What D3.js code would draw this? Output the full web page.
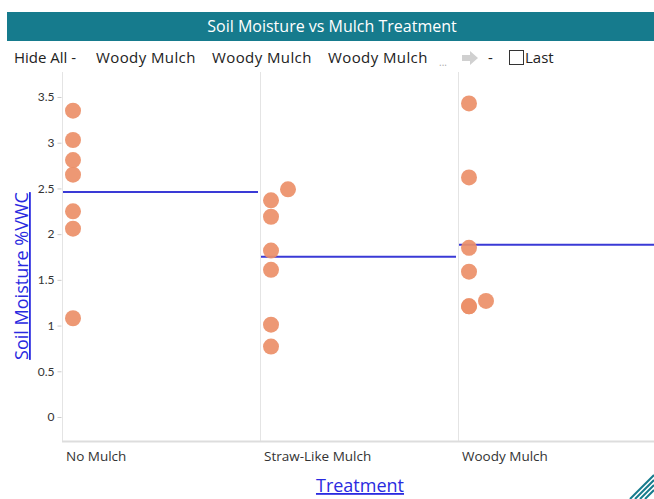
<!DOCTYPE html>
<html>
<head>
<title>Soil Moisture vs Mulch Treatment</title>
<script src="https://d3js.org/d3.v7.min.js" charset="utf-8"></script>
<style>
body { margin: 0; background: white; font-family: "Open Sans", Lato, sans-serif; }
</style>
</head>
<body>
<script>
var width = 654;
var height = 499;

// data
var categories = ["No Mulch", "Straw-Like Mulch", "Woody Mulch"];
var noMulch = [3.35, 3.03, 2.81, 2.65, 2.25, 2.06, 1.08];
var strawMulch = [2.37, 2.49, 2.19, 1.82, 1.61, 1.01, 0.77];
var woodyMulch = [3.43, 2.62, 1.85, 1.59, 1.21, 1.27, 1.21];
var yTicks = [0, 0.5, 1, 1.5, 2, 2.5, 3, 3.5];
var toolbarItems = ["Hide All -", "Woody Mulch", "Woody Mulch", "Woody Mulch"];

var series = [noMulch, strawMulch, woodyMulch];

var dotColor = "#ec8f68";
var meanColor = "#3a3ad6";
var teal = "#167b8d";

var svg = d3.select("body").append("svg")
  .attr("width", width)
  .attr("height", height);

// title bar
svg.append("rect")
  .attr("x", 7).attr("y", 12)
  .attr("width", width - 7).attr("height", 29)
  .attr("fill", teal);
svg.append("text")
  .attr("x", 332).attr("y", 32)
  .attr("text-anchor", "middle")
  .attr("fill", "white")
  .attr("font-size", 16)
  .text("Soil Moisture vs Mulch Treatment");

// toolbar
var tb = svg.append("g").attr("font-size", 15).attr("fill", "#222");
tb.append("text").attr("x", 14).attr("y", 63).text(toolbarItems[0]);
[96, 212, 328].forEach(function(px, i) {
  tb.append("text").attr("x", px).attr("y", 63)
    .attr("letter-spacing", 0.4)
    .text(toolbarItems[i + 1]);
});
tb.append("text").attr("x", 439).attr("y", 66).attr("font-size", 10).attr("fill", "#aaa").text("...");
tb.append("path")
  .attr("d", "M462,55 h8 v-4 l8,7 l-8,7 v-4 h-8 z")
  .attr("fill", "#d0d0d0");
tb.append("text").attr("x", 488).attr("y", 63).text("-");
tb.append("rect")
  .attr("x", 509.5).attr("y", 50.5).attr("width", 14).attr("height", 14)
  .attr("fill", "white").attr("stroke", "#333");
tb.append("text").attr("x", 525).attr("y", 63).text("Last");

// scales
var x = d3.scaleBand().domain(categories).range([62, 656]);
var y = d3.scaleLinear().domain([0, 3.5]).range([417, 97]);

// vertical separators at category starts
svg.append("g").selectAll("line")
  .data(categories)
  .join("line")
  .attr("x1", d => x(d) + 0.5).attr("x2", d => x(d) + 0.5)
  .attr("y1", 72).attr("y2", 441)
  .attr("stroke", "#e4e4e4");

// y axis
var yAxis = svg.append("g")
  .attr("transform", "translate(61.5,0)")
  .call(d3.axisLeft(y).tickValues(yTicks).tickSize(4).tickSizeOuter(0).tickFormat(d3.format("")));
yAxis.select(".domain").remove();
yAxis.selectAll(".tick line").attr("stroke", "#ccc");
yAxis.selectAll(".tick text")
  .attr("fill", "#333").attr("font-size", 12).attr("font-family", "Lato, sans-serif").attr("x", -7);

// bottom axis line
svg.append("line")
  .attr("x1", 62).attr("x2", width)
  .attr("y1", 441.5).attr("y2", 441.5)
  .attr("stroke", "#ddd").attr("stroke-width", 2);

// category labels
svg.append("g").selectAll("text")
  .data(categories)
  .join("text")
  .attr("x", d => x(d) + 4)
  .attr("y", 461)
  .attr("font-size", 13.5)
  .attr("fill", "#333")
  .text(d => d);

// dodge points that would overlap in the same column
var r = 8;
var colStep = 17;
var dots = [];
series.forEach(function(vals, i) {
  var placed = [];
  var sorted = vals.slice().sort(d3.ascending);
  sorted.forEach(function(v) {
    var same = placed.find(p => p.v === v);
    if (same) { placed.push({v: v, col: same.col}); return; }
    var col = 0;
    while (placed.some(p => p.col === col && Math.abs(y(p.v) - y(v)) < 13)) col++;
    placed.push({v: v, col: col});
  });
  placed.forEach(p => dots.push({cat: categories[i], v: p.v, col: p.col}));
});

// mean lines
svg.append("g").selectAll("line")
  .data(series)
  .join("line")
  .attr("x1", (d, i) => x(categories[i]) + 1)
  .attr("x2", (d, i) => Math.min(width, x(categories[i]) + x.bandwidth() - 2))
  .attr("y1", d => y(d3.mean(d)))
  .attr("y2", d => y(d3.mean(d)))
  .attr("stroke", meanColor)
  .attr("stroke-width", 2);

svg.append("g").selectAll("circle")
  .data(dots)
  .join("circle")
  .attr("cx", d => x(d.cat) + 11 + d.col * colStep)
  .attr("cy", d => y(d.v))
  .attr("r", r)
  .attr("fill", dotColor)
  .attr("fill-opacity", 0.92);

// axis titles
svg.append("text")
  .attr("transform", "translate(28,276) rotate(-90)")
  .attr("text-anchor", "middle")
  .attr("font-size", 18)
  .attr("fill", "#2a2ae0")
  .attr("text-decoration", "underline")
  .text("Soil Moisture %VWC");

svg.append("text")
  .attr("x", 360).attr("y", 492)
  .attr("text-anchor", "middle")
  .attr("font-size", 18)
  .attr("fill", "#2a2ae0")
  .attr("text-decoration", "underline")
  .text("Treatment");

// resize grip, bottom right
var grip = svg.append("g").attr("stroke", teal).attr("stroke-width", 2);
[0, 5, 10, 15].forEach(function(o) {
  grip.append("line")
    .attr("x1", 630 + o).attr("y1", height)
    .attr("x2", width).attr("y2", 475 + o);
});
</script>
</body>
</html>
